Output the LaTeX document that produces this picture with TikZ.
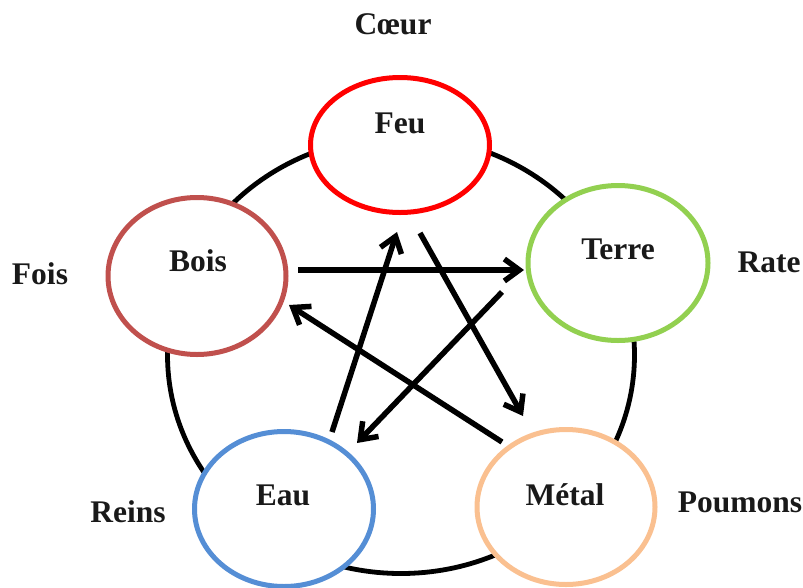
\documentclass[tikz,border=0pt]{standalone}
\usepackage{fontspec}
\setmainfont{Liberation Serif}
\usetikzlibrary{arrows.meta,shapes.geometric}
\definecolor{feuc}{HTML}{FF0000}
\definecolor{terrec}{HTML}{92D050}
\definecolor{boisc}{HTML}{C0504D}
\definecolor{eauc}{HTML}{558ED5}
\definecolor{metalc}{HTML}{FAC090}
\begin{document}
\begin{tikzpicture}[x=1pt,y=-1pt,
  elem/.style={ellipse, draw, fill=white, line width=5pt, inner sep=0pt},
  lbl/.style={font=\fontsize{31.5}{36}\selectfont\bfseries, inner sep=0pt, anchor=center, text=black!90},
  ar/.style={line width=5.5pt, -{Straight Barb[length=15pt,width=22pt]}}]
\useasboundingbox (0,0) rectangle (803,587);
\node[ellipse, draw, line width=4.8pt, minimum width=467pt, minimum height=437pt, inner sep=0pt] (cyc) at (401,355) {};
% elements
\node[elem, draw=feuc,   minimum width=179pt, minimum height=135pt] (feu)   at (400,145) {};
\node[elem, draw=terrec, minimum width=180pt, minimum height=155pt] (terre) at (618,263) {};
\node[elem, draw=boisc,  minimum width=178pt, minimum height=157pt] (bois)  at (197,276) {};
\node[elem, draw=eauc,   minimum width=179pt, minimum height=155pt] (eau)   at (284,509) {};
\node[elem, draw=metalc, minimum width=178pt, minimum height=155pt] (metal) at (566,507) {};
% labels inside
\node[lbl] (tfeu)   at (400,123) {Feu};
\node[lbl] (tterre) at (618,249) {Terre};
\node[lbl] (tbois)  at (198,261) {Bois};
\node[lbl] (teau)   at (283,495) {Eau};
\node[lbl] (tmetal) at (565,495) {Métal};
% organ labels
\node[lbl] (coeur)   at (393,24)  {Cœur};
\node[lbl] (rate)    at (769,262) {Rate};
\node[lbl] (fois)    at (40,274)  {Fois};
\node[lbl] (reins)   at (128,512) {Reins};
\node[lbl] (poumons) at (740,502) {Poumons};
% arrow endpoints
\coordinate (bt1) at (298,270);
\coordinate (bt2) at (524,270);
\coordinate (ef1) at (332,432);
\coordinate (ef2) at (397,232);
\coordinate (fm1) at (420,233);
\coordinate (fm2) at (523,416);
\coordinate (te1) at (502,292);
\coordinate (te2) at (357,443);
\coordinate (mb1) at (502,442);
\coordinate (mb2) at (289,305);
\draw[ar] (bt1) -- (bt2);
\draw[ar] (ef1) -- (ef2);
\draw[ar] (fm1) -- (fm2);
\draw[ar] (te1) -- (te2);
\draw[ar] (mb1) -- (mb2);
\end{tikzpicture}
\end{document}
